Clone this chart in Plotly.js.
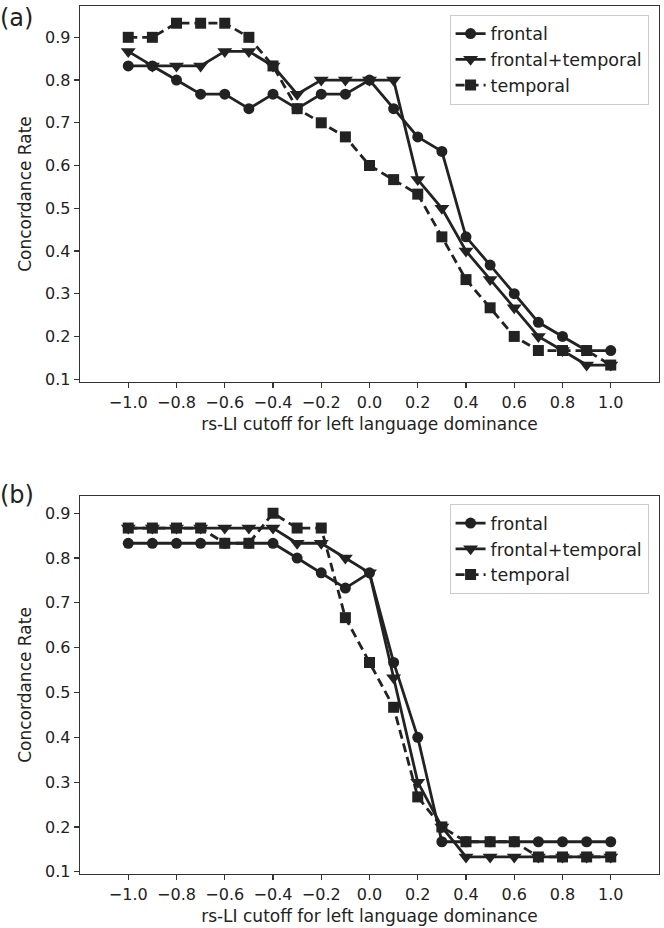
<!DOCTYPE html>
<html>
<head>
<meta charset="utf-8">
<script src="https://cdn.plot.ly/plotly-3.0.1.min.js"></script>
<style>html,body{margin:0;padding:0;background:#fff;}#chart{width:664px;height:928px;}</style>
</head>
<body>
<div id="chart"></div>
<script>
const cutoffs = [-1.0,-0.9,-0.8,-0.7,-0.6,-0.5,-0.4,-0.3,-0.2,-0.1,0.0,0.1,0.2,0.3,0.4,0.5,0.6,0.7,0.8,0.9,1.0];
const seriesNames = ["frontal","frontal+temporal","temporal"];

// Panel (a)
const frontalA = [0.833,0.833,0.800,0.767,0.767,0.733,0.767,0.733,0.767,0.767,0.800,0.733,0.667,0.633,0.433,0.367,0.300,0.233,0.200,0.167,0.167];
const frontalTemporalA = [0.867,0.833,0.833,0.833,0.867,0.867,0.833,0.767,0.800,0.800,0.800,0.800,0.567,0.500,0.400,0.333,0.267,0.200,0.167,0.133,0.133];
const temporalA = [0.900,0.900,0.933,0.933,0.933,0.900,0.833,0.733,0.700,0.667,0.600,0.567,0.533,0.433,0.333,0.267,0.200,0.167,0.167,0.167,0.133];

// Panel (b)
const frontalB = [0.833,0.833,0.833,0.833,0.833,0.833,0.833,0.800,0.767,0.733,0.767,0.567,0.400,0.167,0.167,0.167,0.167,0.167,0.167,0.167,0.167];
const frontalTemporalB = [0.867,0.867,0.867,0.867,0.867,0.867,0.867,0.833,0.833,0.800,0.767,0.533,0.300,0.200,0.133,0.133,0.133,0.133,0.133,0.133,0.133];
const temporalB = [0.867,0.867,0.867,0.867,0.833,0.833,0.900,0.867,0.867,0.667,0.567,0.467,0.267,0.200,0.167,0.167,0.167,0.133,0.133,0.133,0.133];

const xTickVals = [-1.0,-0.8,-0.6,-0.4,-0.2,0.0,0.2,0.4,0.6,0.8,1.0];
const xTickText = ["\u22121.0","\u22120.8","\u22120.6","\u22120.4","\u22120.2","0.0","0.2","0.4","0.6","0.8","1.0"];
const yTickVals = [0.1,0.2,0.3,0.4,0.5,0.6,0.7,0.8,0.9];
const yTickText = ["0.1","0.2","0.3","0.4","0.5","0.6","0.7","0.8","0.9"];
const xTitle = "rs-LI cutoff for left language dominance";
const yTitle = "Concordance Rate";

const ink = "#222222";
const FONT = "DejaVu Sans, sans-serif";
const symbols = ["circle","triangle-down","square"];
const msizes = [11,13,11];
const dashes = ["solid","solid","9px,5px"];

function mk(y, i, xa, ya, leg) {
  return {
    x: cutoffs, y: y, name: seriesNames[i], type: "scatter", mode: "lines+markers",
    xaxis: xa, yaxis: ya, legend: leg,
    line: {color: ink, width: 2.8, dash: dashes[i]},
    marker: {symbol: symbols[i], size: msizes[i], color: ink, line: {width: 0}}
  };
}

const data = [
  mk(frontalA, 0, "x", "y", "legend"),
  mk(frontalTemporalA, 1, "x", "y", "legend"),
  mk(temporalA, 2, "x", "y", "legend"),
  mk(frontalB, 0, "x2", "y2", "legend2"),
  mk(frontalTemporalB, 1, "x2", "y2", "legend2"),
  mk(temporalB, 2, "x2", "y2", "legend2")
];

function xax(anchor) {
  return {
    anchor: anchor, domain: [0,1], range: [-1.2, 1.2],
    tickmode: "array", tickvals: xTickVals, ticktext: xTickText,
    ticks: "outside", ticklen: 5, tickwidth: 1.2, tickcolor: "#333",
    showline: true, mirror: true, linecolor: "#333", linewidth: 1.3,
    showgrid: false, zeroline: false,
    tickfont: {family: FONT, size: 16, color: ink},
    title: {text: xTitle, font: {family: FONT, size: 17, color: ink}, standoff: 7},
    automargin: false
  };
}
function yax(anchor, dom, rng) {
  return {
    anchor: anchor, domain: dom, range: rng,
    tickmode: "array", tickvals: yTickVals, ticktext: yTickText,
    ticks: "outside", ticklen: 5, tickwidth: 1.2, tickcolor: "#333",
    showline: true, mirror: true, linecolor: "#333", linewidth: 1.3,
    showgrid: false, zeroline: false,
    tickfont: {family: FONT, size: 16, color: ink},
    title: {text: yTitle, font: {family: FONT, size: 17, color: ink}, standoff: 9},
    automargin: false
  };
}
function leg(y) {
  return {
    x: 0.982, y: y, xanchor: "right", yanchor: "top",
    bgcolor: "rgba(255,255,255,0.85)", bordercolor: "#cccccc", borderwidth: 1,
    font: {family: FONT, size: 17.5, color: ink}, tracegroupgap: 0,
    itemwidth: 30
  };
}

const layout = {
  width: 664, height: 928,
  margin: {l: 80, r: 5, t: 6, b: 54},
  paper_bgcolor: "#fff", plot_bgcolor: "#fff",
  font: {family: FONT, color: ink},
  xaxis: xax("y"),
  yaxis: yax("x", [0.5668, 1], [0.0933, 0.9733]),
  xaxis2: xax("y2"),
  yaxis2: yax("x2", [0, 0.4355], [0.095, 0.9385]),
  legend: leg(0.99),
  legend2: leg(0.426),
  annotations: [
    {text: "(a)", xref: "paper", yref: "paper", x: -82/579, y: 0.986, xanchor: "left", yanchor: "middle", showarrow: false, font: {family: FONT, size: 24, color: ink}},
    {text: "(b)", xref: "paper", yref: "paper", x: -82/579, y: 0.4366, xanchor: "left", yanchor: "middle", showarrow: false, font: {family: FONT, size: 24, color: ink}}
  ],
  showlegend: true
};

Plotly.newPlot("chart", data, layout, {staticPlot: true, displayModeBar: false});
</script>
</body>
</html>
